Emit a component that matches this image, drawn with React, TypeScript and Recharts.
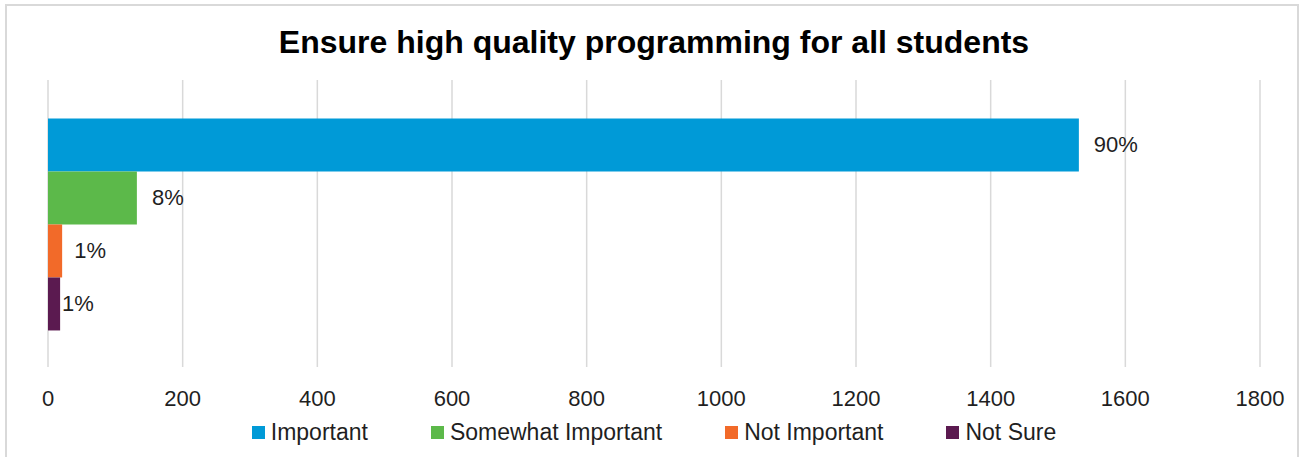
import React from "react";
import { BarChart, Bar, XAxis, YAxis, CartesianGrid, Legend, LabelList } from "recharts";

// Survey responses for one priority item
const categories = ["Ensure high quality programming for all students"];
const seriesNames = ["Important", "Somewhat Important", "Not Important", "Not Sure"];
const seriesKeys = ["important", "somewhat", "notImportant", "notSure"];
const responseCounts = [1531, 132, 21, 18];
const seriesColors = ["#009ad7", "#5cb94a", "#f26a29", "#5b1a50"];
const axisTicks = [0, 200, 400, 600, 800, 1000, 1200, 1400, 1600, 1800];

const total = responseCounts.reduce((s, v) => s + v, 0);

const data = categories.map((name) => {
  const row: Record<string, string | number> = { name };
  seriesKeys.forEach((k, i) => {
    row[k] = responseCounts[i];
  });
  return row;
});

const FONT = "'Liberation Sans', Arial, sans-serif";
const TEXT = "#1f1f1f";

// gap between bar end and its percentage label, per series
const labelGaps = [15, 15, 12, 2];

const makeLabel = (gap: number) => (props: any) => {
  const { x, y, width, height, value } = props;
  const pct = Math.round((Number(value) / total) * 100);
  return (
    <text
      x={Number(x) + Number(width) + gap}
      y={Number(y) + Number(height) / 2}
      dominantBaseline="central"
      fontFamily={FONT}
      fontSize={22}
      fill={TEXT}
    >
      {pct}%
    </text>
  );
};

const LegendContent = () => (
  <div
    style={{
      display: "flex",
      justifyContent: "center",
      alignItems: "center",
      height: 30,
      fontFamily: FONT,
      fontSize: 23,
      color: TEXT,
    }}
  >
    {seriesNames.map((n, i) => (
      <div
        key={n}
        style={{
          display: "flex",
          alignItems: "center",
          marginRight: i < seriesNames.length - 1 ? 63 : 0,
        }}
      >
        <span
          style={{
            display: "inline-block",
            width: 13,
            height: 13,
            background: seriesColors[i],
            marginRight: 6,
          }}
        />
        <span>{n}</span>
      </div>
    ))}
  </div>
);

export default function App() {
  return (
    <div
      style={{
        position: "absolute",
        left: 0,
        top: 0,
        width: 1304,
        height: 457,
        background: "#fff",
        overflow: "hidden",
      }}
    >
      <div
        style={{
          position: "absolute",
          left: 5,
          top: 4,
          width: 1294,
          height: 470,
          border: "2px solid #d9d9d9",
          boxSizing: "border-box",
        }}
      />
      <div
        style={{
          position: "absolute",
          left: 0,
          top: 26,
          width: 1308,
          textAlign: "center",
          fontFamily: FONT,
          fontWeight: 700,
          fontSize: 32,
          lineHeight: "32px",
          color: "#000",
        }}
      >
        {categories[0]}
      </div>
      <div style={{ position: "absolute", left: 0, top: 0 }}>
        <BarChart
          width={1304}
          height={457}
          data={data}
          layout="vertical"
          margin={{ top: 80, right: 44, bottom: 10, left: 48 }}
          barCategoryGap="13.4%"
          barGap={0}
        >
          <CartesianGrid horizontal={false} stroke="#d9d9d9" strokeWidth={1.5} />
          <XAxis
            type="number"
            domain={[0, 1800]}
            ticks={axisTicks}
            axisLine={false}
            tickLine={false}
            tickMargin={17}
            height={50}
            interval={0}
            tick={{ fontFamily: FONT, fontSize: 22, fill: TEXT }}
          />
          <YAxis type="category" dataKey="name" hide />
          <Legend verticalAlign="bottom" height={30} content={<LegendContent />} />
          {seriesKeys.map((k, i) => (
            <Bar
              key={k}
              dataKey={k}
              name={seriesNames[i]}
              fill={seriesColors[i]}
              isAnimationActive={false}
            >
              <LabelList dataKey={k} content={makeLabel(labelGaps[i])} />
            </Bar>
          ))}
        </BarChart>
      </div>
    </div>
  );
}
